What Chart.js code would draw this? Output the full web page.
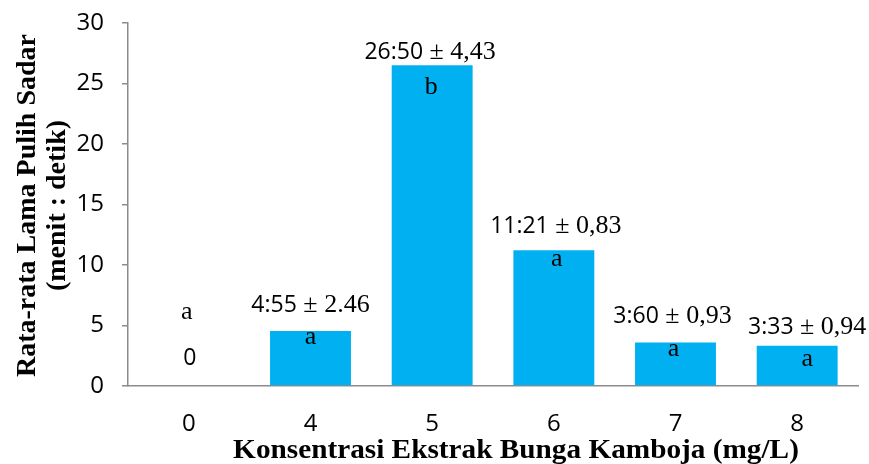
<!DOCTYPE html>
<html>
<head>
<meta charset="utf-8">
<script src="https://cdn.jsdelivr.net/npm/chart.js@4/dist/chart.umd.min.js"></script>
<style>
  html, body { margin: 0; padding: 0; background: #fff; }
  #wrap { width: 869px; height: 464px; }
</style>
</head>
<body>
<div id="wrap"><canvas id="c" width="869" height="464"></canvas></div>
<script>
// Konsentrasi ekstrak (mg/L) and mean recovery time
const categories = ['0', '4', '5', '6', '7', '8'];
const meanValues = [0, 4.55, 26.50, 11.21, 3.60, 3.33];
const meanLabels = ['0', '4:55', '26:50', '11:21', '3:60', '3:33'];
const sdLabels = ['', '2.46', '4,43', '0,83', '0,93', '0,94'];
const groupLetters = ['a', 'a', 'b', 'a', 'a', 'a'];
const yTicks = [0, 5, 10, 15, 20, 25, 30];

const yTitle = ['Rata-rata Lama Pulih Sadar', '(menit : detik)'];
const xTitle = 'Konsentrasi Ekstrak Bunga Kamboja (mg/L)';

// hand-placed label nudges in px, relative to each bar (dx, label baseline dy from bar top, letter baseline dy)
const labelNudges = [
  { dx: 1, dy: -21, ldx: -2, ldy: -67 },
  { dx: 0, dy: -19, ldx: 0, ldy: 13 },
  { dx: -2, dy: -6, ldx: -1, ldy: 29 },
  { dx: 2, dy: -17, ldx: 3, ldy: 16 },
  { dx: -3, dy: -19, ldx: -2, ldy: 14 },
  { dx: 10, dy: -12, ldx: 10, ldy: 20 }
];

const SANS = '"Open Sans", sans-serif';
const SERIF = '"Liberation Serif", "Times New Roman", serif';
const AXIS = '#8c8c8c';

// value labels (mean ± sd) above bars and group letters inside bars
const barLabels = {
  id: 'barLabels',
  afterDatasetsDraw(chart) {
    const ctx = chart.ctx;
    const meta = chart.getDatasetMeta(0);
    ctx.save();
    ctx.fillStyle = '#000';
    ctx.textBaseline = 'alphabetic';
    meta.data.forEach((bar, i) => {
      const n = labelNudges[i];
      const x = bar.x;
      const top = bar.y;
      const base = bar.base;
      const sansFont = '23px ' + SANS;
      const serifFont = '26px ' + SERIF;
      let labelY, letterY;
      if (meanValues[i] > 0) {
        labelY = top + n.dy;
        letterY = top + n.ldy;
      } else {
        labelY = base + n.dy;
        letterY = base + n.ldy;
      }
      // mean part in sans, "± sd" part in serif
      const pm = sdLabels[i] ? ' \u00b1 ' + sdLabels[i] : '';
      ctx.font = sansFont;
      const w1 = ctx.measureText(meanLabels[i]).width;
      ctx.font = serifFont;
      const w2 = pm ? ctx.measureText(pm).width : 0;
      const startX = x + n.dx - (w1 + w2) / 2;
      ctx.textAlign = 'left';
      ctx.font = sansFont;
      ctx.fillText(meanLabels[i], startX, labelY);
      if (pm) {
        ctx.font = serifFont;
        ctx.fillText(pm, startX + w1, labelY);
      }
      ctx.textAlign = 'center';
      ctx.font = serifFont;
      ctx.fillText(groupLetters[i], x + n.ldx, letterY);
    });
    ctx.restore();
  }
};

// axis titles
const axisTitles = {
  id: 'axisTitles',
  afterDraw(chart) {
    const ctx = chart.ctx;
    const area = chart.chartArea;
    ctx.save();
    ctx.fillStyle = '#000';
    ctx.font = 'bold 28px ' + SERIF;
    ctx.textAlign = 'center';
    ctx.textBaseline = 'alphabetic';
    ctx.save();
    ctx.translate((area.left + area.right) / 2 + 23, 458);
    ctx.scale(1.045, 1);
    ctx.fillText(xTitle, 0, 0);
    ctx.restore();
    ctx.translate(0, (area.top + area.bottom) / 2 + 1);
    ctx.rotate(-Math.PI / 2);
    ctx.fillText(yTitle[0], 0, 35);
    ctx.fillText(yTitle[1], 0, 65);
    ctx.restore();
  }
};

new Chart(document.getElementById('c'), {
  type: 'bar',
  data: {
    labels: categories,
    datasets: [{
      data: meanValues,
      backgroundColor: '#00b0f0',
      borderWidth: 0,
      categoryPercentage: 1,
      barPercentage: 0.665
    }]
  },
  options: {
    responsive: false,
    animation: false,
    events: [],
    layout: { padding: { top: 23, right: 11, left: 0, bottom: 0 } },
    plugins: { legend: { display: false }, tooltip: { enabled: false } },
    scales: {
      x: {
        grid: { display: false },
        border: { color: AXIS, width: 1.5 },
        ticks: { color: '#000', font: { family: SANS, size: 24 }, padding: 16 },
        afterFit(scale) { scale.height = 78; scale.paddingLeft = 0; scale.paddingRight = 0; }
      },
      y: {
        min: 0,
        max: 30,
        afterBuildTicks(scale) { scale.ticks = yTicks.map(v => ({ value: v })); },
        grid: { drawOnChartArea: false, drawTicks: true, tickLength: 6, color: AXIS, lineWidth: 1.5 },
        border: { color: AXIS, width: 1.5 },
        ticks: { color: '#000', font: { family: SANS, size: 24 }, padding: 18 },
        afterFit(scale) { scale.width = 128; scale.paddingTop = 0; scale.paddingBottom = 0; }
      }
    }
  },
  plugins: [barLabels, axisTitles]
});
</script>
</body>
</html>
